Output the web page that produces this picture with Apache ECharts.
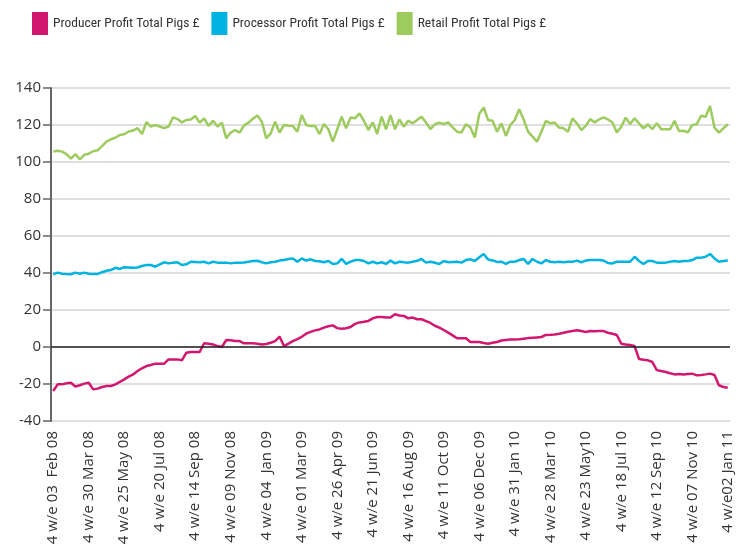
<!DOCTYPE html>
<html>
<head>
<meta charset="utf-8">
<title>Pig profits</title>
<script src="https://cdn.jsdelivr.net/npm/echarts@6/dist/echarts.min.js"></script>
</head>
<body style="margin:0;padding:0">
<div id="chart" style="width:742px;height:551px;"></div>
<script type="text/javascript">
// labels shown under the axis, one every 8 weeks
var tickLabels = [
    '4 w/e 03  Feb 08', '4 w/e 30 Mar 08', '4 w/e 25 May 08', '4 w/e 20 Jul 08',
    '4 w/e 14 Sep 08', '4 w/e 09 Nov 08', '4 w/e 04  Jan 09', '4 w/e 01 Mar 09',
    '4 w/e 26 Apr 09', '4 w/e 21 Jun 09', '4 w/e 16 Aug 09', '4 w/e 11 Oct 09',
    '4 w/e 06 Dec 09', '4 w/e 31 Jan 10', '4 w/e 28 Mar 10', '4 w/e 23 May10',
    '4 w/e 18 Jul 10', '4 w/e 12 Sep 10', '4 w/e 07 Nov 10', '4 w/e02 Jan 11'
];

var producer = [
    -23.8, -20.2, -20.2, -19.6, -19.3, -21.4, -20.7, -19.8, -19.3, -22.9,
    -22.5, -21.6, -21.1, -21.1, -20.2, -18.9, -17.5, -16, -14.8, -13,
    -11.5, -10.3, -9.7, -9, -9, -9, -6.7, -6.7, -6.7, -7.2,
    -3.1, -2.7, -2.7, -2.7, 2, 1.8, 1.4, 0.5, 0, 3.8,
    3.6, 3.2, 3.2, 2, 2, 2, 1.8, 1.4, 1.6, 2.3,
    3.2, 5.6, 0.5, 1.8, 3.2, 4.3, 5.5, 7.2, 8.2, 9,
    9.5, 10.5, 11.2, 11.7, 10.2, 9.9, 10.1, 10.8, 12.5, 13.3,
    13.6, 14.1, 15.5, 16.2, 16.2, 16, 15.9, 17.7, 17, 16.8,
    15.5, 15.9, 15, 15, 14, 13, 11.5, 10.5, 9.2, 7.8,
    6.3, 4.7, 4.7, 4.7, 2.7, 2.7, 2.7, 2.2, 1.8, 2.3,
    2.7, 3.5, 3.8, 4, 4.1, 4.2, 4.5, 4.8, 5, 5.2,
    5.4, 6.5, 6.6, 6.8, 7.2, 7.7, 8.2, 8.7, 9, 8.6,
    8.1, 8.6, 8.5, 8.6, 8.6, 7.7, 7.2, 6.5, 1.8, 1.4,
    1.1, 0.5, -6.5, -6.9, -7.2, -8.1, -12.5, -13, -13.5, -14.2,
    -14.8, -14.6, -14.8, -14.6, -14.4, -15.3, -15.1, -14.8, -14.4, -15.1,
    -20.7, -21.6, -22
];

var processor = [
    39.3, 40.2, 39.6, 39.4, 39.3, 40.2, 39.6, 40.2, 39.6, 39.5,
    39.5, 40.4, 41.2, 41.6, 42.8, 42.2, 43.1, 43, 42.9, 43,
    43.8, 44.3, 44.3, 43.4, 44.6, 45.8, 45.2, 45.6, 45.8, 44.3,
    44.7, 46.1, 46, 45.8, 46.1, 45.2, 46.1, 45.6, 45.6, 45.6,
    45.2, 45.6, 45.5, 45.7, 46.1, 46.5, 46.6, 45.8, 45.2, 45.8,
    46.1, 46.7, 47, 47.6, 47.9, 46.1, 47.9, 46.7, 47.4, 46.5,
    46.3, 45.8, 46.5, 44.9, 45.2, 47.6, 44.9, 46.1, 47, 47,
    46.5, 45.2, 46.1, 45.2, 45.8, 44.9, 46.7, 45.2, 46.1, 45.8,
    45.6, 46.1, 46.6, 47.6, 45.6, 46.1, 45.5, 44.9, 46.5, 45.8,
    46, 46.1, 45.6, 47, 47.4, 46.5, 48.5, 50.3, 47.3, 46.8,
    46, 46.1, 44.9, 46.1, 46.1, 47, 47.6, 44.9, 47.6, 46.1,
    45.2, 47, 46.1, 45.8, 46.1, 45.8, 46.1, 46.1, 46.7, 45.8,
    46.7, 47, 47, 47, 46.7, 45.4, 45.2, 46.1, 46.1, 46.1,
    46.1, 48.8, 46.5, 44.9, 46.5, 46.5, 45.6, 45.6, 45.6, 46.1,
    46.5, 46.1, 46.5, 46.5, 47, 48.3, 48.3, 48.8, 50.3, 47.9,
    46.1, 46.5, 46.7
];

var retail = [
    105.6, 106.1, 105.6, 104.3, 101.8, 104.3, 101.4, 103.9, 104.5, 105.8,
    106.3, 108.6, 111, 112.3, 113.2, 114.6, 115, 116.5, 117, 118.3,
    115.1, 121.5, 119.2, 120, 119.2, 118.3, 119.2, 124.1, 123.2, 121.4,
    122.7, 123, 124.9, 121.3, 123.6, 119.5, 122.3, 119.2, 121.3, 112.8,
    115.9, 117.3, 115.9, 119.8, 121.3, 123.4, 125.2, 121.8, 112.8, 115.5,
    121.8, 115.9, 120, 119.6, 119.5, 116.4, 125.4, 120, 119.5, 119.5,
    115.1, 120.5, 117.7, 111, 117.7, 124.5, 118.2, 124.1, 123.6, 126.3,
    122.3, 117.3, 121.4, 115.1, 124.5, 117.7, 125.4, 117.7, 123, 119.1,
    122.3, 120.9, 122.7, 124.5, 121.3, 117.8, 120.4, 121.3, 120.5, 121.4,
    118.7, 116.4, 116, 120.4, 118.7, 113.2, 126, 129.5, 122.7, 122.3,
    116.4, 120.9, 114.1, 120, 122.7, 128.5, 123, 116.4, 113.7, 111,
    116.4, 122.2, 120.9, 121.3, 118.6, 118.2, 116.4, 123.6, 120.9, 117.3,
    119.5, 123.2, 121.4, 123, 124.1, 123, 121.3, 116, 119.1, 124,
    120.5, 123.6, 120.9, 118.2, 120.4, 117.7, 120.9, 117.7, 117.7, 117.7,
    122.3, 116.8, 116.9, 116, 120, 120.4, 125, 124.5, 130.3, 118.6,
    115.9, 118.2, 120.4
];

// weekly categories, 4 weeks ending each Sunday from 03 Feb 2008
var months = ['Jan','Feb','Mar','Apr','May','Jun','Jul','Aug','Sep','Oct','Nov','Dec'];
var weeks = [];
var d = new Date(Date.UTC(2008, 1, 3));
for (var i = 0; i < retail.length; i++) {
    var dd = ('0' + d.getUTCDate()).slice(-2);
    weeks.push('4 w/e ' + dd + ' ' + months[d.getUTCMonth()] + ' ' + String(d.getUTCFullYear()).slice(-2));
    d = new Date(d.getTime() + 7 * 86400000);
}

var myChart = echarts.init(document.getElementById('chart'));

var option = {
    animation: false,
    backgroundColor: '#fff',
    color: ['#d1176f', '#00b3e0', '#9dcb5e'],
    legend: {
        left: 27,
        top: 7,
        icon: 'rect',
        itemWidth: 16,
        itemHeight: 23,
        itemGap: 12,
        textStyle: {
            fontFamily: "'Roboto Condensed', 'Liberation Sans Narrow', 'DejaVu Sans Condensed', sans-serif",
            fontSize: 13.5,
            color: '#333'
        },
        data: ['Producer Profit Total Pigs £', 'Processor Profit Total Pigs £', 'Retail Profit Total Pigs £']
    },
    grid: {
        left: 51,
        right: 12,
        top: 88,
        bottom: 130
    },
    xAxis: {
        type: 'category',
        data: weeks,
        boundaryGap: true,
        axisLine: { show: false },
        axisTick: { show: false },
        splitLine: { show: false },
        axisLabel: {
            interval: 7,
            rotate: 90,
            margin: 10,
            fontFamily: "'Open Sans', sans-serif",
            fontSize: 15,
            color: '#333',
            formatter: function(val, idx) {
                return tickLabels[idx / 8];
            }
        }
    },
    yAxis: {
        type: 'value',
        min: -40,
        max: 140,
        interval: 20,
        axisLine: {
            show: true,
            lineStyle: { color: '#666', width: 2 }
        },
        axisTick: {
            show: true,
            length: 8,
            lineStyle: { color: '#666', width: 1.5 }
        },
        axisLabel: {
            margin: 10,
            fontFamily: "'Open Sans', sans-serif",
            fontSize: 15,
            color: '#333'
        },
        splitLine: {
            lineStyle: { color: '#d4d4d4', width: 1.5 }
        }
    },
    series: [{
        name: 'Producer Profit Total Pigs £',
        type: 'line',
        data: producer,
        symbol: 'none',
        lineStyle: { width: 2.5 },
        z: 4,
        markLine: {
            silent: true,
            symbol: 'none',
            label: { show: false },
            lineStyle: { color: '#222', width: 1.5, type: 'solid' },
            data: [{ yAxis: 0 }]
        }
    }, {
        name: 'Processor Profit Total Pigs £',
        type: 'line',
        data: processor,
        symbol: 'none',
        lineStyle: { width: 2.5 }
    }, {
        name: 'Retail Profit Total Pigs £',
        type: 'line',
        data: retail,
        symbol: 'none',
        lineStyle: { width: 2.5 }
    }]
};

myChart.setOption(option);
</script>
</body>
</html>
